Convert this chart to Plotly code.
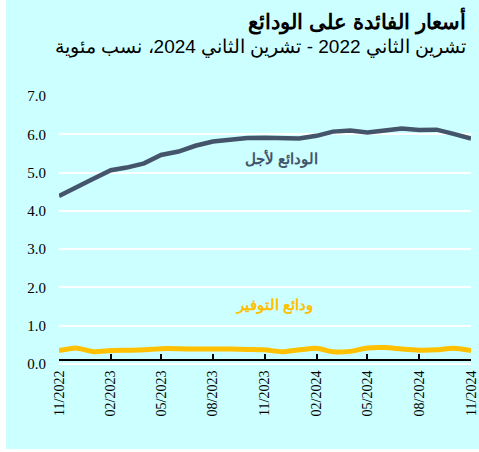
import plotly.graph_objects as go
import pandas as pd

months = pd.date_range("2022-11-01", "2024-11-01", freq="MS")
dates = [d.strftime("%Y-%m-%d") for d in months]

term_deposits = [4.39, 4.62, 4.84, 5.06, 5.13, 5.24, 5.46, 5.55, 5.70, 5.81, 5.87, 5.90, 5.91,
                 5.90, 5.89, 5.96, 6.07, 6.10, 6.05, 6.10, 6.15, 6.11, 6.12, 6.01, 5.89]
savings_deposits = [0.35, 0.42, 0.32, 0.35, 0.36, 0.37, 0.40, 0.40, 0.39, 0.39, 0.39, 0.38, 0.37,
                    0.32, 0.37, 0.41, 0.32, 0.33, 0.42, 0.43, 0.39, 0.36, 0.37, 0.41, 0.35]

tick_vals = dates[::3]
tick_text = [d.strftime("%m/%Y") for d in months[::3]]

y_ticks = [0, 1, 2, 3, 4, 5, 6, 7]
y_ticktext = [f"{v:.1f}" for v in y_ticks]

title = "أسعار الفائدة على الودائع"
subtitle = "تشرين الثاني 2022 - تشرين الثاني 2024، نسب مئوية"
label_term = "الودائع لأجل"
label_sav = "ودائع التوفير"

BG = "#CCFFFF"
DARK = "#44546A"
GOLD = "#FFC000"
AR_FONT = "Liberation Sans"
SERIF = "Liberation Serif"

fig = go.Figure()
fig.add_trace(go.Scatter(x=dates, y=term_deposits, mode="lines",
                         line=dict(color=DARK, width=4.5), hoverinfo="skip"))
fig.add_trace(go.Scatter(x=dates, y=savings_deposits, mode="lines",
                         line=dict(color=GOLD, width=5, shape="spline", smoothing=0.6),
                         hoverinfo="skip"))

W, H = 479, 452
ml, mr, mt, mb = 59, 8, 96, 88
plot_h = H - mt - mb
plot_w = W - ml - mr

fig.update_layout(
    width=W, height=H, autosize=False,
    margin=dict(l=ml, r=mr, t=mt, b=mb, pad=0, autoexpand=False),
    paper_bgcolor="rgba(0,0,0,0)",
    plot_bgcolor=BG,
    showlegend=False,
    shapes=[dict(type="rect", xref="paper", yref="paper",
                 x0=(6 - ml) / plot_w, x1=(W - ml) / plot_w,
                 y0=(H - mb - 449) / plot_h, y1=(H - mb) / plot_h,
                 fillcolor=BG, line=dict(width=0), layer="below")],
    xaxis=dict(
        range=[dates[0], dates[-1]],
        tickmode="array", tickvals=tick_vals, ticktext=tick_text,
        tickangle=-90, automargin=False,
        tickfont=dict(family=SERIF, size=14, color="#000000"),
        showgrid=False, zeroline=False,
        showline=True, linecolor="#000000", linewidth=2,
        ticks="inside", ticklen=5, tickwidth=2, tickcolor="#000000",
        anchor="free", position=4 / plot_h,
        ticklabelstandoff=4,
    ),
    yaxis=dict(
        range=[0, 7.0], automargin=False,
        tickmode="array", tickvals=y_ticks, ticktext=y_ticktext,
        tickfont=dict(family=SERIF, size=15, color="#000000"),
        showgrid=True, gridcolor="#FFFFFF", gridwidth=2,
        zeroline=True, zerolinecolor="#FFFFFF", zerolinewidth=2,
        showline=False, ticks="", ticklabelstandoff=12,
    ),
    annotations=[
        dict(text=f"<b>{title}</b>", xref="paper", yref="paper",
             x=(468 - ml) / plot_w, y=(H - mb - 21) / plot_h,
             xanchor="right", yanchor="middle", showarrow=False,
             font=dict(family=AR_FONT, size=21, color="#000000")),
        dict(text=subtitle, xref="paper", yref="paper",
             x=(468 - ml) / plot_w, y=(H - mb - 47) / plot_h,
             xanchor="right", yanchor="middle", showarrow=False,
             font=dict(family=AR_FONT, size=19, color="#000000")),
        dict(text=f"<b>{label_term}</b>", x=dates[13], y=5.36,
             xanchor="center", yanchor="middle", showarrow=False,
             font=dict(family=AR_FONT, size=15, color=DARK)),
        dict(text=f"<b>{label_sav}</b>", x=dates[13], y=1.55, xshift=-7,
             xanchor="center", yanchor="middle", showarrow=False,
             font=dict(family=AR_FONT, size=15, color=GOLD)),
    ],
)

fig.write_html(
    "out.html",
    config={"displayModeBar": False, "responsive": False},
    post_script="document.body.style.margin='0';document.body.style.overflow='hidden';"
                "document.documentElement.style.overflow='hidden';",
)
